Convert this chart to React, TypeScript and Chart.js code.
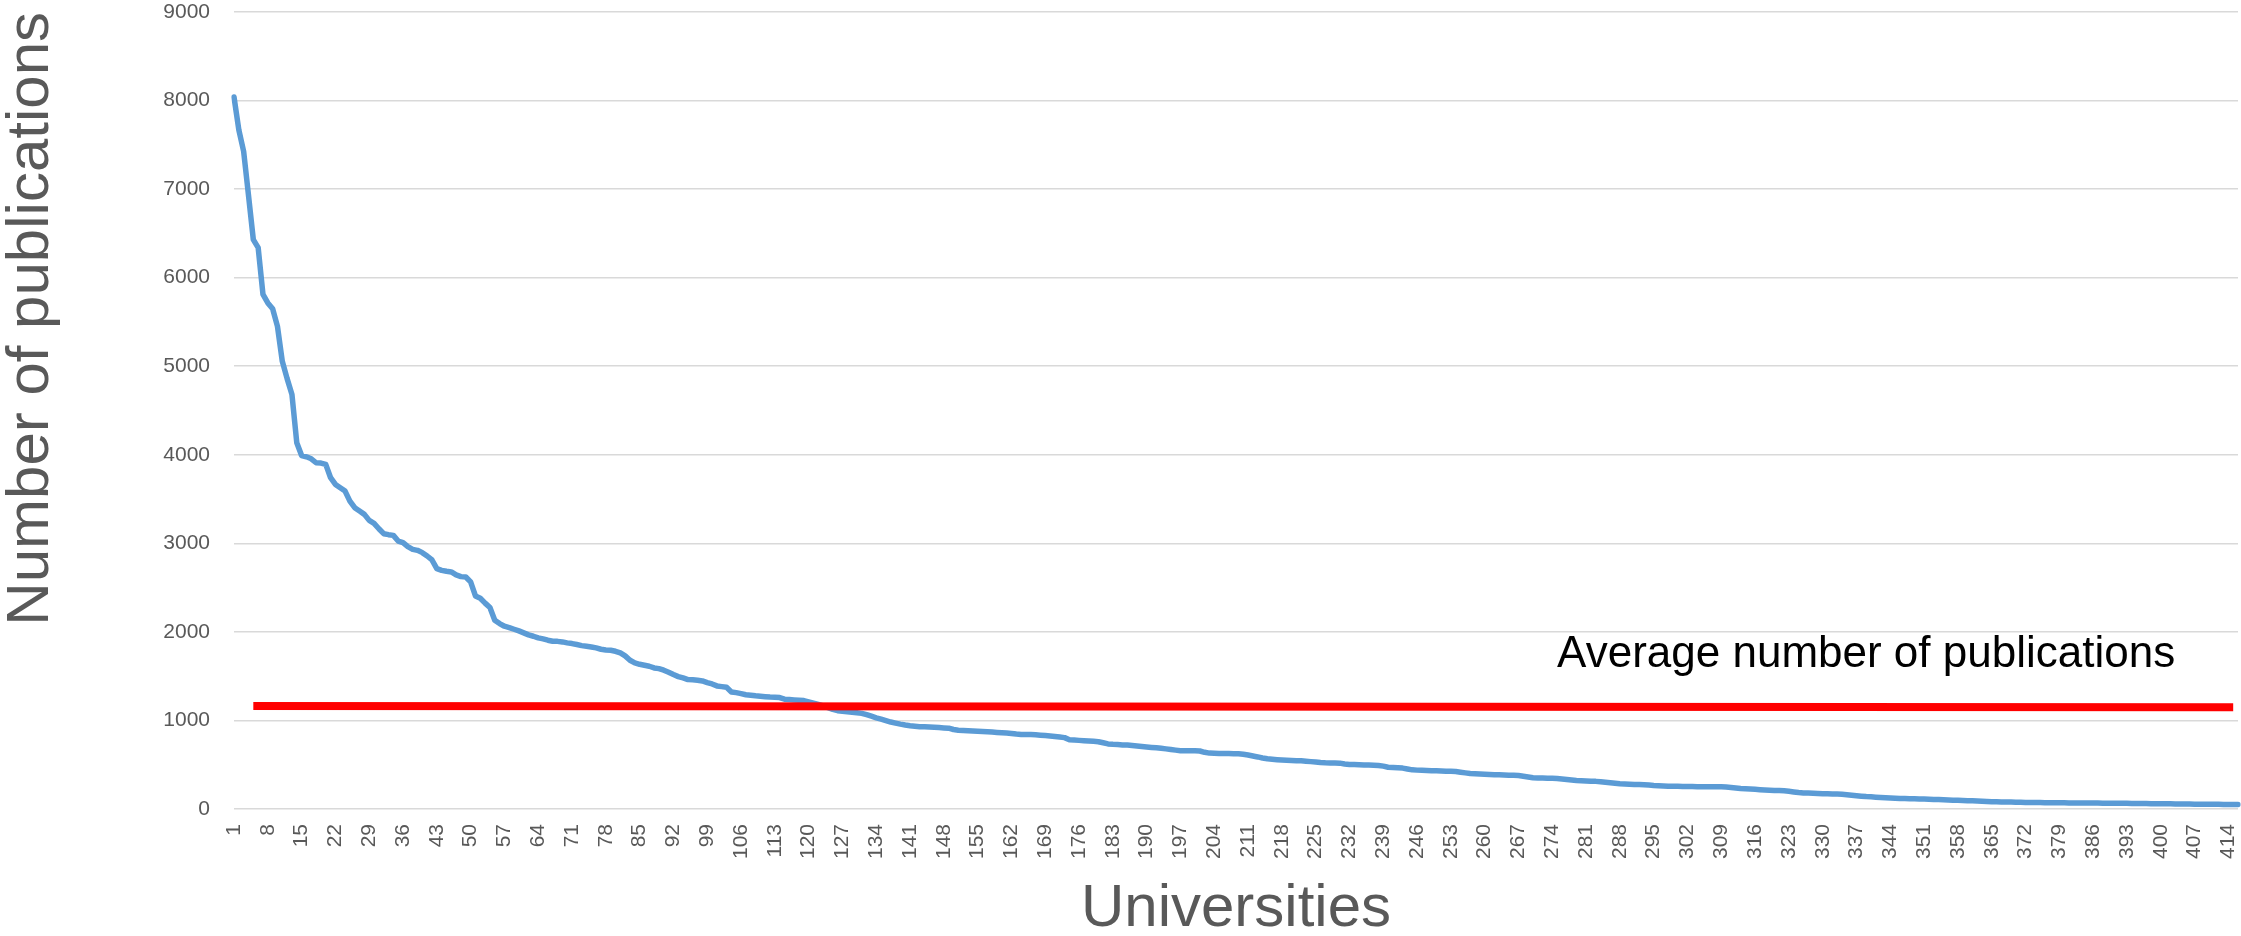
import React, { useEffect, useRef } from "react";
import { Chart, registerables } from "chart.js";

Chart.register(...registerables);

// Number of publications per university (ranked)
const publications: number[] = [
  8040, 7670, 7425, 6930, 6430, 6340, 5810, 5715, 5650, 5450,
  5056, 4860, 4680, 4135, 3992, 3977, 3955, 3910, 3906, 3891,
  3741, 3665, 3628, 3590, 3477, 3402, 3365, 3327, 3259, 3226,
  3165, 3109, 3098, 3090, 3026, 3008, 2962, 2932, 2921, 2895,
  2857, 2812, 2714, 2695, 2684, 2677, 2643, 2624, 2620, 2564,
  2406, 2380, 2325, 2275, 2132, 2094, 2064, 2049, 2030, 2011,
  1989, 1966, 1951, 1932, 1921, 1906, 1894, 1893, 1887, 1876,
  1868, 1857, 1845, 1838, 1830, 1819, 1804, 1796, 1793, 1781,
  1763, 1729, 1680, 1650, 1634, 1623, 1612, 1593, 1585, 1567,
  1544, 1518, 1495, 1480, 1461, 1460, 1454, 1446, 1427, 1412,
  1390, 1382, 1374, 1322, 1314, 1303, 1290, 1285, 1278, 1273,
  1268, 1264, 1262, 1258, 1240, 1236, 1232, 1228, 1224, 1210,
  1195, 1180, 1165, 1145, 1125, 1110, 1104, 1098, 1092, 1086,
  1080, 1065, 1048, 1030, 1015, 998, 982, 970, 958, 948,
  940, 935, 930, 928, 925, 922, 919, 916, 913, 898,
  890, 887, 884, 881, 878, 876, 873, 869, 865, 862,
  858, 853, 846, 842, 841, 840, 838, 834, 829, 824,
  818, 812, 806, 782, 779, 775, 772, 768, 764, 760,
  748, 735, 730, 727, 724, 722, 716, 711, 705, 700,
  695, 691, 685, 679, 672, 665, 659, 658, 658, 657,
  655, 640, 631, 629, 628, 627, 626, 625, 624, 618,
  609, 598, 588, 576, 567, 562, 557, 553, 550, 548,
  546, 544, 540, 535, 530, 524, 521, 520, 519, 518,
  508, 503, 502, 500, 498, 497, 495, 492, 484, 472,
  468, 465, 462, 452, 442, 439, 437, 435, 433, 431,
  429, 427, 426, 424, 416, 408, 401, 398, 395, 392,
  390, 388, 386, 384, 382, 380, 378, 370, 361, 352,
  350, 349, 347, 346, 345, 340, 334, 328, 323, 320,
  317, 314, 312, 308, 302, 296, 290, 285, 283, 280,
  277, 277, 275, 270, 265, 262, 260, 258, 257, 256,
  255, 254, 253, 252, 252, 251, 251, 251, 250, 248,
  244, 238, 232, 228, 225, 222, 218, 215, 212, 210,
  208, 205, 200, 193, 186, 182, 180, 178, 176, 173,
  171, 169, 168, 167, 162, 156, 150, 145, 140, 137,
  134, 131, 127, 124, 121, 119, 118, 117, 116, 114,
  112, 110, 108, 106, 104, 102, 100, 98, 96, 94,
  92, 90, 87, 85, 83, 81, 80, 79, 78, 76,
  75, 74, 73, 72, 72, 71, 71, 70, 70, 70,
  69, 69, 68, 68, 68, 67, 67, 66, 66, 65,
  65, 64, 64, 63, 62, 62, 61, 60, 60, 59,
  58, 58, 57, 57, 56, 56, 55, 55, 54, 54,
  53, 53, 52, 52, 51, 51,
];

// Category labels: university ranks 1..N
const universities: string[] = publications.map((_, i) => String(i + 1));
const labelEvery = 7;

// Y axis ticks
const yMin = 0;
const yMax = 9000;
const yStep = 1000;

// Average line (drawn as a straight segment)
const avgStartCategory = 5;
const avgEndCategory = 415;
const avgStartValue = 1162;
const avgEndValue = 1148;

// Annotation
const annotationText = "Average number of publications";
const annotationCategory = 275;
const annotationValue = 1600;

const xTitle = "Universities";
const yTitle = "Number of publications";

const averageSeries: (number | null)[] = universities.map((_, i) => {
  if (i + 1 === avgStartCategory) return avgStartValue;
  if (i + 1 === avgEndCategory) return avgEndValue;
  return null;
});

const W = 2241;
const H = 936;
const FONT = "'Liberation Sans', Arial, sans-serif";

export default function App() {
  const ref = useRef<HTMLCanvasElement | null>(null);

  useEffect(() => {
    document.body.style.margin = "0";
    const canvas = ref.current;
    if (!canvas) return;

    const annotationPlugin = {
      id: "avgAnnotation",
      afterDatasetsDraw(chart: any) {
        const { ctx, scales } = chart;
        const x = scales.x.getPixelForValue(annotationCategory - 1);
        const y = scales.y.getPixelForValue(annotationValue);
        ctx.save();
        ctx.font = `44px ${FONT}`;
        ctx.fillStyle = "#000000";
        ctx.textAlign = "left";
        ctx.textBaseline = "alphabetic";
        ctx.fillText(annotationText, x, y);
        ctx.restore();
      },
    };

    const chart = new Chart(canvas, {
      type: "line",
      data: {
        labels: universities,
        datasets: [
          {
            label: "Average",
            data: averageSeries,
            borderColor: "#FF0000",
            borderWidth: 8,
            pointRadius: 0,
            spanGaps: true,
            borderCapStyle: "butt",
            order: 0,
          },
          {
            label: "Publications",
            data: publications,
            borderColor: "#5B9BD5",
            borderWidth: 5.5,
            pointRadius: 0,
            tension: 0,
            borderJoinStyle: "round",
            borderCapStyle: "round",
            order: 1,
          },
        ],
      },
      options: {
        responsive: false,
        animation: false,
        layout: { padding: { left: 0, right: 3, top: 12, bottom: 0 } },
        plugins: {
          legend: { display: false },
          tooltip: { enabled: false },
        },
        scales: {
          x: {
            type: "category",
            offset: false,
            grid: { display: false, drawTicks: false },
            border: { display: false },
            ticks: {
              autoSkip: false,
              minRotation: 90,
              maxRotation: 90,
              padding: 15,
              color: "#595959",
              font: { family: FONT, size: 21 },
              callback: function (this: any, value: any, index: number) {
                return index % labelEvery === 0 ? this.getLabelForValue(value) : "";
              },
            },
            title: {
              display: true,
              text: xTitle,
              color: "#595959",
              font: { family: FONT, size: 60, lineHeight: 0.9 },
              padding: { top: 0, bottom: 0 },
            },
            afterFit: (scale: any) => {
              scale.height = 127;
              scale.paddingLeft = 0;
              scale.paddingRight = 0;
            },
          },
          y: {
            min: yMin,
            max: yMax,
            grid: { color: "#D9D9D9", lineWidth: 1.5, drawTicks: false },
            border: { display: false },
            ticks: {
              stepSize: yStep,
              padding: 24,
              color: "#595959",
              font: { family: FONT, size: 21 },
              callback: (v: any) => String(v),
            },
            title: {
              display: true,
              text: yTitle,
              align: "end",
              color: "#595959",
              font: { family: FONT, size: 60, lineHeight: 0.9 },
              padding: { top: 4, bottom: 0 },
            },
            afterFit: (scale: any) => {
              scale.width = 234;
              scale.paddingTop = 0;
              scale.paddingBottom = 0;
            },
          },
        },
      },
      plugins: [annotationPlugin],
    } as any);

    return () => chart.destroy();
  }, []);

  return (
    <div style={{ width: W, height: H, background: "#ffffff" }}>
      <canvas ref={ref} width={W} height={H} style={{ display: "block" }} />
    </div>
  );
}
